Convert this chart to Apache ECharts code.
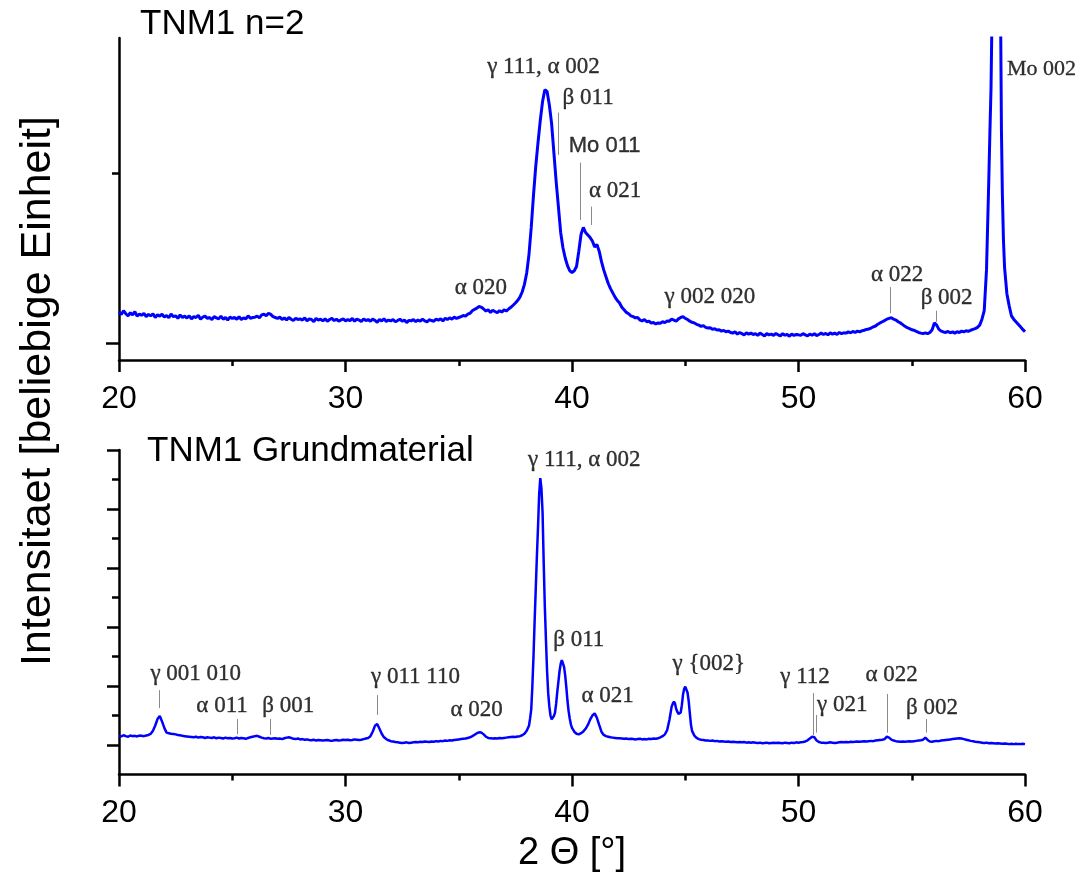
<!DOCTYPE html>
<html>
<head>
<meta charset="utf-8">
<script src="https://cdn.jsdelivr.net/npm/echarts@6/dist/echarts.min.js"></script>
<style>
  html, body { margin: 0; padding: 0; background: #fff; }
  #chart { width: 1082px; height: 874px; }
</style>
</head>
<body>
<div id="chart"></div>
<script>
// XRD scans, 2-theta from 20 to 60 deg, recorded at 0.1 deg steps
const SCAN_START = 20;
const SCAN_STEP = 0.1;

// TNM1 n=2 (upper panel), one value per 0.1 deg step
const upperCounts = [
  182,168,190,172,160,178,165,184,158,170,
  163,175,155,168,160,172,150,166,158,170,
  152,162,148,170,155,160,145,165,150,158,
  147,160,142,155,150,163,140,152,158,145,
  150,138,155,148,142,158,140,150,135,152,
  145,150,140,155,138,148,142,160,145,150,
  152,158,148,165,170,160,175,168,155,150,
  145,152,138,148,135,150,140,132,146,138,
  142,135,148,130,142,138,125,145,135,140,
  130,142,128,138,145,132,140,128,136,142,
  130,138,132,145,128,140,135,126,142,132,
  138,128,140,133,122,138,130,142,127,135,
  130,138,125,132,140,128,135,120,133,130,
  138,126,135,128,140,130,124,137,132,128,
  140,135,142,130,145,138,148,140,152,145,
  150,155,162,158,170,175,190,198,205,215,
  210,200,188,195,180,192,185,178,190,182,
  195,188,200,210,222,235,250,270,300,345,
  412,520,680,870,1040,1180,1310,1420,1490,1480,
  1400,1290,1120,950,800,650,560,500,455,425,
  415,425,450,540,640,680,650,635,620,600,
  565,580,540,480,430,390,350,320,295,270,
  250,235,210,195,180,172,160,155,148,150,
  135,130,138,125,128,118,120,112,118,116,
  125,120,130,128,140,135,128,142,150,155,
  145,138,128,122,118,110,105,98,102,92,
  88,90,80,84,76,78,70,74,66,70,
  62,58,66,52,62,55,48,60,52,58,
  50,55,45,58,50,42,55,48,52,45,
  56,48,42,55,46,50,40,52,45,50,
  48,45,55,48,42,52,46,55,44,50,
  58,50,56,48,60,52,58,50,62,55,
  60,58,65,60,68,62,70,66,72,75,
  80,82,88,95,100,110,118,125,132,140,
  145,148,140,135,125,118,108,98,90,85,
  78,75,68,62,58,55,60,55,62,78,
  118,105,80,70,65,62,68,60,65,58,
  66,62,70,65,72,68,75,80,85,92,
  105,140,190,430,950,1500,4000,12000,12000,2600,
  880,440,290,220,160,140,125,110,95,80,
  66
];
// extra points between steps on the steep flanks
const upperDetail = [
  [38.85, 1500], [58.45, 1235], [58.53, 1800], [58.93, 1800], [58.96, 1250], [59.05, 600]
];

// TNM1 Grundmaterial (lower panel), one value per 0.1 deg step
const lowerCounts = [
  31,29,33,30,28,32,30,31,29,32,
  31,30,32,34,38,48,66,88,98,80,
  58,42,40,38,37,36,34,33,31,30,
  29,28,27,26,28,25,27,26,24,26,
  25,24,26,23,25,24,22,25,23,24,
  22,23,25,22,24,23,21,24,26,28,
  30,31,28,25,23,22,24,21,22,23,
  21,22,20,23,25,26,24,21,20,22,
  19,20,18,19,17,16,18,15,17,16,
  15,16,17,15,14,16,17,15,16,18,
  17,18,16,17,19,18,17,18,20,22,
  24,30,45,65,71,55,38,26,20,16,
  13,12,10,9,8,7,8,9,7,8,
  9,10,9,11,10,12,11,10,12,11,
  13,12,14,13,15,14,16,15,17,18,
  19,20,21,22,24,26,30,35,40,43,
  42,36,28,24,23,22,23,22,24,23,
  24,25,26,27,28,27,29,30,33,38,
  48,65,120,300,530,740,905,790,470,250,
  130,87,98,140,215,275,285,235,150,90,
  58,45,38,36,40,46,55,68,86,100,
  107,92,68,45,34,30,28,26,25,24,
  23,23,22,21,22,20,21,20,19,20,
  21,19,20,19,21,20,22,21,23,26,
  30,36,50,85,130,147,122,105,110,170,
  198,178,110,48,32,24,20,18,17,15,
  15,14,15,13,14,12,13,12,11,12,
  10,11,10,9,10,9,10,8,9,8,
  9,8,7,8,6,7,8,6,7,8,
  7,8,7,6,8,7,6,8,7,9,
  8,9,10,12,16,22,28,26,15,10,
  8,8,7,8,9,8,7,8,9,10,
  9,10,9,11,10,11,12,11,12,13,
  12,13,14,13,15,16,17,18,20,28,
  25,18,15,13,12,11,12,11,12,13,
  12,13,14,15,16,18,25,17,12,11,
  13,14,13,15,16,17,18,19,20,21,
  22,23,22,20,18,16,14,13,11,10,
  9,8,7,8,6,7,6,5,6,5,
  4,5,4,3,4,3,4,3,3,4,
  3
];
const lowerDetail = [
  [38.05, 52], [38.15, 90], [38.25, 200], [38.35, 420], [38.45, 640], [38.55, 850],
  [38.65, 870], [38.75, 620], [38.85, 356], [38.95, 175], [39.05, 100], [39.15, 88],
  [39.25, 110], [39.35, 180], [39.45, 250], [39.55, 288], [39.65, 265], [39.75, 195],
  [39.85, 115], [39.95, 70], [44.45, 140], [44.55, 140], [44.65, 113], [44.75, 102],
  [44.85, 135], [44.95, 190], [45.05, 195], [45.15, 150], [45.25, 70], [50.65, 32]
];

// reflection labels: text, [angle, intensity] of the label centre
const upperLabels = ['α 020', 'γ 111, α 002', 'β 011', 'Mo 011', 'α 021', 'γ 002 020', 'α 022', 'β 002', 'Mo 002'];
const upperLabelAt = [[35.98, 323], [38.74, 1625], [40.71, 1439], [41.44, 1159], [41.90, 896], [46.09, 272], [54.35, 400], [56.54, 263], [60.73, 1610]];
// marker strokes: [angle, from, to]
const upperMarks = [[39.40, 1355, 1106], [40.38, 1061, 724], [40.87, 802, 694], [54.07, 329, 176], [56.07, 190, 125]];

const lowerLabels = ['γ 001 010', 'α 011', 'β 001', 'γ 011 110', 'α 020', 'γ 111, α 002', 'β 011', 'α 021', 'γ {002}', 'γ 112', 'γ 021', 'α 022', 'β 002'];
const lowerLabelAt = [[23.39, 240], [24.55, 132], [27.47, 132], [33.09, 231], [35.79, 119], [40.54, 966], [40.30, 356], [41.57, 166], [46.04, 275], [50.29, 229], [51.93, 136], [54.11, 237], [55.89, 124]];
const lowerMarks = [[21.77, 186, 125], [25.22, 88, 37], [26.67, 88, 34], [31.40, 169, 102], [50.64, 176, 34], [50.80, 102, 42], [53.94, 173, 42], [55.62, 88, 42]];

const xTicks = [20, 30, 40, 50, 60];

function buildScan(counts, detail) {
  const pts = counts.map((c, i) => [+(SCAN_START + i * SCAN_STEP).toFixed(2), c]);
  detail.forEach(p => pts.push(p));
  pts.sort((a, b) => a[0] - b[0]);
  return pts;
}

const SANS = "'Liberation Sans', Arial, sans-serif";
const SERIF = "'Liberation Serif', 'Times New Roman', serif";
const BLUE = '#0000ff';

function xAxisFor(gridIndex, extra) {
  return Object.assign({
    type: 'value', gridIndex: gridIndex, position: 'bottom',
    min: xTicks[0], max: xTicks[xTicks.length - 1], interval: 10,
    axisLine: { show: true, onZero: false, lineStyle: { color: '#000', width: 2.5 } },
    axisTick: { show: true, length: 12, lineStyle: { color: '#000', width: 2.5 } },
    minorTick: { show: true, splitNumber: 2, length: 6, lineStyle: { color: '#000', width: 2.5 } },
    axisLabel: { fontSize: 32, fontFamily: SANS, color: '#000', margin: 23 },
    splitLine: { show: false }, minorSplitLine: { show: false }
  }, extra || {});
}

function yAxisFor(gridIndex, min, max, ticks, len, lineShown) {
  return {
    type: 'value', gridIndex: gridIndex, position: 'left', offset: 0,
    min: min, max: max,
    axisLine: { show: lineShown, onZero: false, lineStyle: { color: '#000', width: 2.5 } },
    axisTick: { show: true, customValues: ticks, length: len, lineStyle: { color: '#000', width: 2.5 } },
    axisLabel: { show: false },
    splitLine: { show: false }
  };
}

function labelSeries(xi, yi, names, at, marks, fontOverrides) {
  return {
    type: 'scatter', xAxisIndex: xi, yAxisIndex: yi, clip: false, silent: true,
    symbolSize: 0, z: 5,
    data: names.map((n, i) => ({
      name: n, value: at[i],
      label: fontOverrides[n]
    })),
    label: {
      show: true, formatter: '{b}', position: [0, 0], align: 'center', verticalAlign: 'middle',
      fontFamily: SERIF, fontSize: 23, color: '#000',
      textBorderColor: '#000', textBorderWidth: 0.35
    },
    emphasis: { disabled: true },
    markLine: {
      silent: true, symbol: ['none', 'none'], animation: false,
      label: { show: false },
      lineStyle: { color: '#8a8a8a', width: 1, type: 'solid' },
      emphasis: { disabled: true },
      data: marks.map(m => [{ coord: [m[0], m[1]] }, { coord: [m[0], m[2]] }])
    }
  };
}

const chart = echarts.init(document.getElementById('chart'), null, { renderer: 'canvas' });
chart.setOption({
  animation: false,
  backgroundColor: '#fff',
  title: [
    { text: 'TNM1 n=2', left: 140, top: 7, padding: 0,
      textStyle: { fontFamily: SANS, fontSize: 35, fontWeight: 'normal', color: '#000' } },
    { text: 'TNM1 Grundmaterial', left: 147, top: 434, padding: 0,
      textStyle: { fontFamily: SANS, fontSize: 35, fontWeight: 'normal', color: '#000' } }
  ],
  grid: [
    { left: 119, top: 38, width: 906, height: 322 },
    { left: 119, top: 450, width: 906, height: 324.5 }
  ],
  xAxis: [
    xAxisFor(0),
    xAxisFor(1, {
      name: '2 Θ [°]', nameLocation: 'middle', nameGap: 60,
      nameTextStyle: { fontFamily: SANS, fontSize: 38, color: '#000' }
    })
  ],
  yAxis: [
    yAxisFor(0, -100, 1794, [0], 13, true),
    yAxisFor(0, -100, 1794, [1000], 7, false),
    yAxisFor(1, -100, 1000, [0, 200, 400, 600, 800, 1000], 12, true),
    yAxisFor(1, -100, 1000, [100, 300, 500, 700, 900], 7, false)
  ],
  graphic: [{
    type: 'text', x: 38, y: 391, rotation: Math.PI / 2,
    style: {
      text: 'Intensitaet [beliebige Einheit]', fill: '#000',
      font: '43px ' + SANS, textAlign: 'center', textVerticalAlign: 'middle'
    }
  }],
  series: [
    {
      type: 'line', xAxisIndex: 0, yAxisIndex: 0, data: buildScan(upperCounts, upperDetail),
      symbol: 'none', showSymbol: false, clip: true, silent: true,
      lineStyle: { color: BLUE, width: 3 }
    },
    {
      type: 'line', xAxisIndex: 1, yAxisIndex: 2, data: buildScan(lowerCounts, lowerDetail),
      symbol: 'none', showSymbol: false, clip: true, silent: true,
      lineStyle: { color: BLUE, width: 2.5 }
    },
    labelSeries(0, 0, upperLabels, upperLabelAt, upperMarks, {
      'Mo 011': { fontFamily: SANS, fontSize: 22 },
      'Mo 002': { fontSize: 22 }
    }),
    labelSeries(1, 2, lowerLabels, lowerLabelAt, lowerMarks, {})
  ]
});
</script>
</body>
</html>
